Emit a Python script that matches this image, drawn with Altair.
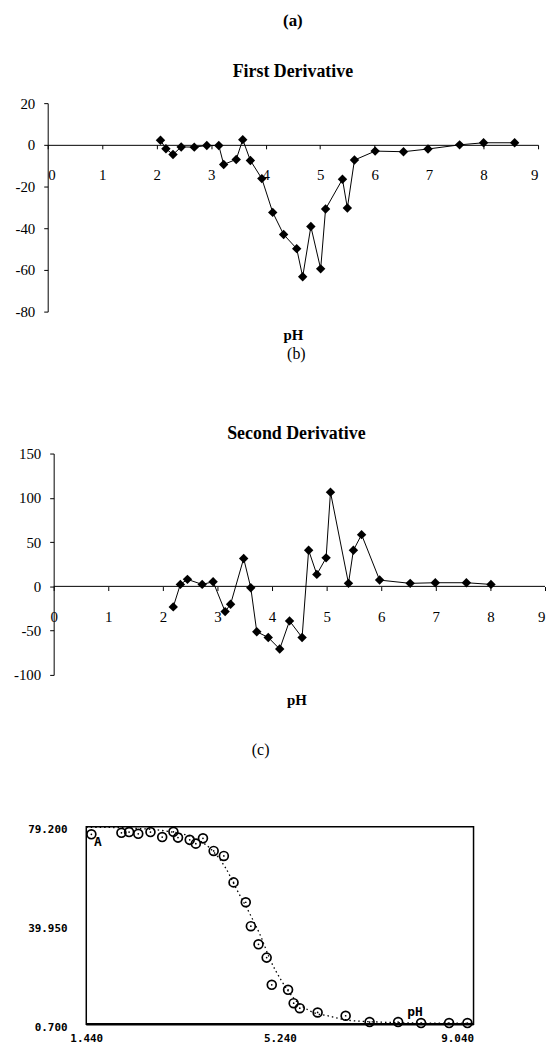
import altair as alt
import pandas as pd

# ---- data ----
ph1 = [2.07, 2.17, 2.30, 2.45, 2.69, 2.92, 3.14, 3.23, 3.46, 3.58, 3.72, 3.93, 4.13, 4.33,
       4.57, 4.68, 4.83, 5.01, 5.10, 5.41, 5.50, 5.63, 6.01, 6.53, 6.98, 7.56, 8.00, 8.57]
d1 = [2.2, -1.9, -4.6, -1.0, -1.1, -0.3, -0.3, -9.4, -7.0, 2.5, -7.5, -16.2, -32.4, -43.0,
      -49.8, -63.3, -39.2, -59.5, -30.8, -16.5, -30.3, -7.3, -3.0, -3.3, -2.0, 0.0, 1.0, 1.0]

ph2 = [2.19, 2.32, 2.45, 2.72, 2.92, 3.14, 3.24, 3.48, 3.61, 3.72, 3.93, 4.14, 4.32, 4.55,
       4.67, 4.82, 4.99, 5.07, 5.40, 5.49, 5.64, 5.97, 6.53, 6.99, 7.56, 8.01]
d2 = [-23.2, 2.2, 7.9, 2.2, 5.2, -28.5, -20.2, 31.5, -1.5, -51.3, -57.7, -70.8, -39.0, -57.7,
      40.8, 13.5, 32.2, 106.4, 3.4, 40.8, 58.4, 7.1, 3.4, 4.1, 4.1, 2.2]

ph3 = [1.54, 2.13, 2.28, 2.46, 2.70, 2.93, 3.15, 3.24, 3.47, 3.59, 3.73, 3.94, 4.14, 4.33,
       4.57, 4.67, 4.82, 4.98, 5.08, 5.40, 5.51, 5.63, 5.98, 6.53, 7.00, 7.56, 8.01, 8.56, 8.92]
a3 = [76.2, 76.8, 77.1, 76.4, 77.1, 75.1, 77.2, 74.9, 74.0, 72.5, 74.6, 69.6, 67.6, 57.1,
      49.2, 39.7, 32.5, 27.2, 16.4, 14.4, 9.1, 7.1, 5.4, 4.1, 1.6, 1.6, 1.2, 1.2, 1.2]

fit_ph = [1.44, 2.0, 2.5, 3.0, 3.5, 3.85, 4.17, 4.4, 4.65, 4.87, 5.05, 5.26, 5.53, 5.81,
          6.22, 6.64, 7.32, 8.0, 9.04]
fit_a = [79.0, 78.9, 78.5, 77.5, 75.2, 71.0, 63.0, 54.0, 44.6, 35.4, 26.3, 18.4, 10.6, 6.2,
         3.9, 2.2, 1.5, 1.2, 1.1]

x_ticks_ab = [0, 1, 2, 3, 4, 5, 6, 7, 8, 9]
y_ticks_a = [-80, -60, -40, -20, 0, 20]
y_ticks_b = [-100, -50, 0, 50, 100, 150]
x_ticks_c = [1.44, 5.24, 9.04]
y_ticks_c = [0.7, 39.95, 79.2]

ann_text = ["A", "pH"]
ann_x = [1.67, 7.89]
ann_y = [73.0, 5.6]

serif = "Liberation Serif"
mono = "DejaVu Sans Mono"
plain = "'' + datum.value"

# ---------------- panel (a) ----------------
df1 = pd.DataFrame({"pH": ph1, "v": d1})
xa = alt.X("pH:Q", scale=alt.Scale(domain=[0, 9], nice=False, zero=False),
           axis=alt.Axis(values=x_ticks_ab, labelExpr=plain, offset=-168, grid=False,
                         domainColor="black", tickColor="black", tickSize=4,
                         labelPadding=19, labelFont=serif, labelFontSize=15,
                         labelColor="black", title="pH", titleFont=serif,
                         titleFontSize=15, titleFontWeight="bold", titleColor="black",
                         titleY=191, titleBaseline="middle"))
ya = alt.Y("v:Q", scale=alt.Scale(domain=[-80, 20], nice=False, zero=False),
           axis=alt.Axis(values=y_ticks_a, labelExpr=plain, grid=False, domainColor="black",
                         tickColor="black", tickSize=4, labelPadding=9, labelFont=serif,
                         labelFontSize=15, labelColor="black", title=None))
ba = alt.Chart(df1).encode(x=xa, y=ya)
panel_a = alt.layer(
    ba.mark_line(color="black", strokeWidth=1),
    ba.mark_point(shape="diamond", filled=True, size=90, color="black", opacity=1),
).properties(
    width=494, height=210,
    title=alt.TitleParams(text="(a)", subtitle="First Derivative", font=serif, fontSize=17,
                          fontWeight="bold", color="black", subtitleFont=serif,
                          subtitleFontSize=18, subtitleFontWeight="bold",
                          subtitleColor="black", subtitlePadding=34, offset=14,
                          anchor="middle"),
)

# ---------------- panel (b) ----------------
df2 = pd.DataFrame({"pH": ph2, "v": d2})
xb = alt.X("pH:Q", scale=alt.Scale(domain=[-0.11, 9], nice=False, zero=False),
           axis=alt.Axis(values=x_ticks_ab, labelExpr=plain, offset=-89, grid=False,
                         domain=False, tickColor="black", tickSize=4,
                         labelPadding=19, labelFont=serif, labelFontSize=15,
                         labelColor="black", title="pH", titleFont=serif,
                         titleFontSize=15, titleFontWeight="bold", titleColor="black",
                         titleY=114, titleBaseline="middle"))
yb = alt.Y("v:Q", scale=alt.Scale(domain=[-100, 150], nice=False, zero=False),
           axis=alt.Axis(values=y_ticks_b, labelExpr=plain, offset=-6, grid=False,
                         domainColor="black", tickColor="black", tickSize=4,
                         labelPadding=9, labelFont=serif, labelFontSize=15,
                         labelColor="black", title=None))
bb = alt.Chart(df2).encode(x=xb, y=yb)
axis_line_b = alt.Chart(pd.DataFrame({"x": [0], "x2": [9], "y": [0]})).mark_rule(
    color="black", strokeWidth=1).encode(x="x:Q", x2="x2:Q", y="y:Q")
panel_b = alt.layer(
    axis_line_b,
    bb.mark_line(color="black", strokeWidth=1),
    bb.mark_point(shape="diamond", filled=True, size=90, color="black", opacity=1),
).properties(
    width=501, height=223,
    title=alt.TitleParams(text="(b)", subtitle="Second Derivative", font=serif, fontSize=16,
                          fontWeight="normal", color="black", subtitleFont=serif,
                          subtitleFontSize=18, subtitleFontWeight="bold",
                          subtitleColor="black", subtitlePadding=63, offset=4,
                          anchor="middle"),
)

# ---------------- panel (c) ----------------
df3 = pd.DataFrame({"pH": ph3, "a": a3})
dfit = pd.DataFrame({"pH": fit_ph, "a": fit_a})
xsc = alt.Scale(domain=[0.683, 9.04], nice=False, zero=False)
ysc = alt.Scale(domain=[0.7, 79.2], nice=False, zero=False)
xc = alt.X("pH:Q", scale=xsc,
           axis=alt.Axis(values=x_ticks_c, format=".3f", grid=False, domain=False,
                         ticks=False, labelPadding=8, labelFont=mono, labelFontSize=11,
                         labelFontWeight="bold", labelColor="black", title=None))
yc = alt.Y("a:Q", scale=ysc,
           axis=alt.Axis(values=y_ticks_c, format=".3f", offset=-38.5, grid=False,
                         domain=False, ticks=False, labelPadding=19, labelFont=mono,
                         labelFontSize=11, labelFontWeight="bold", labelColor="black",
                         labelOffset=3, title=None))
box = alt.Chart(pd.DataFrame({"x": [1.44], "x2": [9.04], "y": [0.7], "y2": [79.2]})).mark_rect(
    filled=False, stroke="black", strokeWidth=1.5).encode(
    x=alt.X("x:Q", scale=xsc), x2="x2:Q", y=alt.Y("y:Q", scale=ysc), y2="y2:Q")
bottom = alt.Chart(pd.DataFrame({"x": [1.44], "x2": [9.04], "y": [0.7]})).mark_rule(
    color="black", strokeWidth=2.5).encode(
    x=alt.X("x:Q", scale=xsc), x2="x2:Q", y=alt.Y("y:Q", scale=ysc))
fit = alt.Chart(dfit).mark_line(color="black", strokeWidth=1.3, strokeDash=[1.5, 3],
                                interpolate="monotone").encode(x=xc, y=yc)
circ = alt.Chart(df3).mark_point(shape="circle", filled=False, size=80, color="black",
                                 strokeWidth=1.7, opacity=1).encode(x=xc, y=yc)
dots = alt.Chart(df3).mark_point(shape="circle", filled=True, size=3, color="black",
                                 opacity=1).encode(x=xc, y=yc)
ann = alt.Chart(pd.DataFrame({"t": ann_text, "x": ann_x, "y": ann_y})).mark_text(
    font=mono, fontSize=13, fontWeight="bold", color="black").encode(
    x=alt.X("x:Q", scale=xsc), y=alt.Y("y:Q", scale=ysc), text="t:N")
panel_c = alt.layer(box, bottom, fit, circ, dots, ann).properties(
    width=429, height=199,
    title=alt.TitleParams(text=" ", subtitle="(c)", fontSize=12, subtitleFont=serif,
                          subtitleFontSize=16, subtitleColor="black", subtitlePadding=18,
                          offset=65, anchor="middle"),
)

chart = alt.vconcat(panel_a, panel_b, panel_c, spacing=4).properties(
    padding={"left": 5, "right": 0, "top": 0, "bottom": 0},
    background="white",
).configure_view(stroke=None)

chart.save("out.html", embed_options={"renderer": "svg", "actions": False})
